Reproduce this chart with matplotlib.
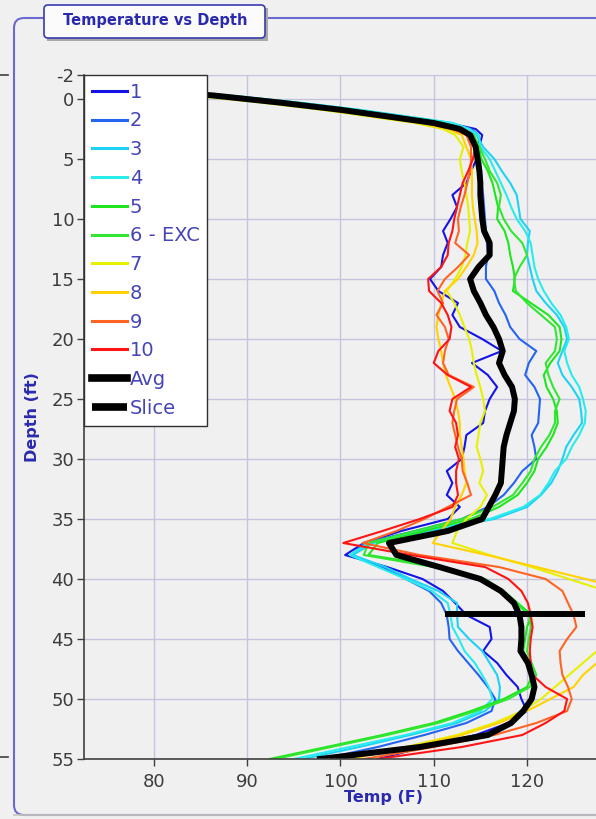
import matplotlib
matplotlib.use("Agg")
from matplotlib import pyplot as plt
from matplotlib.patches import FancyBboxPatch, Rectangle

plt.rcParams["axes.unicode_minus"] = False

# depth grid (ft), shared by every probe trace
depth = [-0.8, -0.3, 0.3, 0.9, 1.5, 2.0, 2.5, 3.0,
         4, 5, 6, 7, 8, 9, 10, 11, 12, 13, 14, 15, 16, 17, 18, 19, 20,
         21, 22, 23, 24, 25, 26, 27, 28, 29, 30, 31, 32, 33, 34, 35, 36,
         37, 38, 39, 40, 41, 42, 43, 44, 45, 46, 47, 48, 49, 50, 51, 52,
         53, 54, 55]

t1 = [79.0, 87.5, 95.0, 101.5, 107.0, 111.5, 114.5, 115.2,
      114.9, 114.6, 114.0, 113.5, 112.0, 112.5, 111.8, 111.0, 111.5, 111.0,
      110.8, 109.6, 110.5, 112.6, 112.0, 112.8, 115.2, 117.3, 114.1, 115.8,
      116.8, 116.0, 115.5, 115.3, 113.5, 113.3, 113.0, 111.4, 112.0, 111.4,
      112.8, 111.5, 106.5, 102.5, 100.5, 105.0, 108.8, 111.0, 112.3, 113.5,
      116.0, 116.2, 115.3, 116.8, 117.8, 119.0, 119.4, 120.0, 118.0, 114.5,
      109.0, 104.0]
t2 = [79.0, 87.5, 95.0, 101.5, 107.0, 111.5, 114.0, 114.8,
      114.9, 115.0, 115.0, 115.1, 115.3, 115.4, 115.5, 115.6, 115.7, 115.8,
      115.6, 115.6, 116.5, 117.0, 117.7, 118.2, 119.2, 121.0, 120.2, 119.8,
      120.8, 121.4, 121.3, 121.2, 120.5, 120.8, 121.0, 119.5, 118.6, 117.5,
      115.8, 113.0, 108.0, 102.5, 101.2, 104.5, 107.0, 109.5, 110.8, 111.4,
      111.6, 111.7, 112.6, 113.7, 114.8, 115.8, 116.6, 116.2, 113.5, 109.0,
      104.0, 98.0]
t3 = [79.5, 88.0, 95.5, 102.0, 107.5, 112.0, 113.8, 114.6,
      115.3, 116.5, 117.3, 118.2, 118.9, 119.1, 119.3, 120.3, 120.1, 120.0,
      120.3, 120.6, 121.0, 122.0, 123.2, 124.0, 124.3, 123.8, 123.3, 123.8,
      124.8, 125.6, 125.8, 125.9, 125.0, 124.2, 123.8, 123.3, 122.6, 121.5,
      120.0, 116.5, 109.5, 103.5, 101.3, 104.8, 107.5, 110.5, 112.5, 112.5,
      112.6, 113.8, 115.2, 116.0, 116.8, 117.1, 117.0, 115.5, 112.5, 107.5,
      102.0, 96.0]
t4 = [79.5, 88.0, 95.5, 102.0, 107.5, 112.0, 113.8, 114.8,
      115.0, 116.0, 116.6, 117.2, 117.8, 118.3, 118.9, 119.8, 120.4, 120.6,
      120.8, 121.2, 121.8, 122.6, 123.6, 124.2, 124.5, 124.0, 124.3, 124.8,
      125.6, 126.0, 126.3, 126.2, 125.6, 124.8, 124.2, 123.0, 122.3, 121.4,
      119.6, 116.0, 108.5, 103.0, 101.0, 104.0, 107.0, 109.8, 111.5, 111.8,
      112.0, 112.7, 113.3, 114.4, 115.2, 115.9, 116.3, 115.0, 112.0, 107.0,
      101.0, 95.0]
t5 = [78.5, 87.0, 94.5, 101.0, 106.5, 111.0, 113.0, 114.2,
      114.8, 115.1, 115.8, 116.3, 116.6, 116.9, 116.8, 117.6, 118.0, 118.2,
      118.5, 118.7, 118.5, 120.4, 122.3, 123.5, 123.7, 123.5, 122.5, 121.8,
      122.1, 122.8, 123.2, 123.3, 122.8, 122.1, 121.2, 120.8, 120.0, 119.0,
      117.0, 114.0, 109.0, 104.0, 103.0, 111.0, 115.5, 117.5, 119.0, 120.5,
      120.0, 119.8, 119.6, 120.2, 120.6, 120.0, 117.5, 114.0, 110.0, 104.5,
      98.5, 92.4]
t6 = [78.5, 87.0, 94.5, 101.0, 106.5, 111.0, 113.0, 114.3,
      114.9, 115.5, 116.0, 116.8, 117.2, 117.0, 117.5, 118.3, 119.5, 120.0,
      119.2, 118.6, 118.8, 120.0, 121.5, 123.0, 123.2, 123.0, 122.0, 122.3,
      122.8, 123.5, 123.0, 123.0, 122.4, 121.5, 120.8, 120.4, 119.5, 118.5,
      116.3, 113.0, 108.0, 103.0, 102.5, 110.0, 114.8, 117.0, 118.8, 120.2,
      120.4, 120.2, 120.0, 120.5, 121.0, 120.3, 118.0, 114.5, 110.5, 105.0,
      99.0, 93.0]
t7 = [76.0, 84.0, 91.5, 98.0, 103.5, 108.0, 111.0, 112.3,
      113.2, 112.8, 113.0, 113.3, 113.5, 113.7, 113.8, 113.9, 113.6, 113.4,
      113.0, 112.3, 111.4, 112.2, 112.8, 113.3, 113.8, 114.1, 114.3, 114.6,
      115.0, 115.3, 115.5, 115.0, 114.8, 114.6, 115.0, 115.3, 114.9, 115.7,
      115.0, 113.5, 112.5, 112.0, 116.0, 120.5, 124.5, 128.5, 131.5, 133.0,
      132.5, 130.5, 127.5, 126.0, 124.5, 123.0, 121.5, 119.5, 116.5, 112.5,
      107.0, 100.0]
t8 = [76.5, 84.5, 92.0, 98.5, 104.0, 108.5, 111.5, 113.0,
      113.5, 114.0, 114.1, 114.1, 114.1, 114.2, 114.4, 114.6, 114.7, 114.3,
      113.5, 112.6, 111.2, 110.8, 110.5, 110.3, 110.5, 110.8, 111.0, 111.3,
      111.8, 112.3, 112.6, 112.8, 112.8, 113.0, 113.2, 113.3, 113.5, 113.0,
      112.3, 111.8, 110.8, 109.9, 115.7, 121.0, 126.3, 131.0, 133.5, 134.5,
      134.0, 132.0, 129.0, 127.5, 126.0, 125.0, 122.5, 120.0, 117.0, 113.0,
      107.5, 101.0]
t9 = [77.0, 85.0, 92.5, 99.0, 104.5, 109.0, 112.0, 113.5,
      114.0, 114.0, 113.9, 113.6, 113.3, 112.9, 112.6, 112.7, 112.3, 113.8,
      112.6, 111.2, 110.4, 111.0, 110.3, 111.2, 111.6, 111.2, 111.0, 111.6,
      114.3, 112.5, 112.2, 112.0, 112.3, 112.6, 113.0, 113.1, 113.6, 114.0,
      111.5, 109.0, 106.0, 102.4, 108.5, 117.0, 122.0, 123.8, 124.4, 125.0,
      125.3, 124.3, 123.5, 123.6, 123.8, 124.4, 124.8, 124.3, 121.0, 116.5,
      110.0, 102.5]
t10 = [77.5, 85.5, 93.0, 99.5, 105.0, 109.5, 112.5, 114.0,
       114.5, 114.2, 113.7, 113.1, 112.8, 112.5, 112.2, 112.0, 111.6, 111.5,
       110.8, 109.4, 109.5, 110.8, 111.5, 111.9, 111.7, 110.5, 110.0, 111.5,
       114.0, 112.0, 111.7, 112.4, 112.6, 112.3, 112.7, 112.4, 112.4, 112.6,
       112.0, 108.5, 104.5, 100.3, 107.5, 115.5, 118.0, 119.4, 120.1, 120.4,
       120.6, 120.4, 120.3, 120.4, 120.6, 122.0, 124.3, 124.0, 122.0, 119.5,
       113.0, 104.0]
t_avg = [78.0, 86.3, 93.5, 100.0, 105.5, 110.0, 112.8, 113.9,
         114.5, 114.7, 114.9, 115.0, 115.0, 115.1, 115.2, 115.4, 116.0, 116.0,
         114.8, 113.9, 114.3, 115.0, 115.6, 116.4, 117.0, 117.4, 117.0, 117.6,
         118.4, 118.7, 118.6, 118.2, 117.8, 117.5, 117.4, 117.3, 117.2, 116.6,
         115.9, 115.2, 111.5, 105.2, 106.0, 110.6, 115.0, 117.2, 118.6, 119.2,
         119.4, 119.4, 119.3, 120.1, 120.5, 120.8, 120.5, 119.6, 118.3, 115.8,
         108.5, 97.8]

slice_temp = [111.2, 126.2]
slice_depth = [42.9, 42.9]

labels = ["1", "2", "3", "4", "5", "6 - EXC", "7", "8", "9", "10"]
traces = [t1, t2, t3, t4, t5, t6, t7, t8, t9, t10]
colors = ["#1414e6", "#2464f0", "#1ed2f5", "#28ecec", "#1ee61e", "#32e632",
          "#e6f000", "#ffd200", "#ff6424", "#ff1414"]

BG = "#f0f0f0"
TXT = "#3c3c3c"
BLUE = "#2a2ab0"

fig = plt.figure(figsize=(5.96, 8.19), dpi=100, facecolor=BG)

# background decoration: group box around the chart
bg = fig.add_axes([0, 0, 1, 1], zorder=-1)
bg.set_xlim(0, 596)
bg.set_ylim(819, 0)
bg.axis("off")
bg.add_patch(FancyBboxPatch((14, 18), 640, 797,
                            boxstyle="round,pad=0,rounding_size=10",
                            fc="none", ec="#6a6ad0", lw=1.5))
bg.add_patch(Rectangle((47, 8), 221, 33, fc="#a8a8a8", ec="none"))
bg.add_patch(FancyBboxPatch((44, 5), 221, 33,
                            boxstyle="round,pad=0,rounding_size=4",
                            fc="#fbfbfb", ec="#3a3ab0", lw=1.2))
bg.text(155, 21, "Temperature vs Depth", ha="center", va="center",
        fontsize=10.5, fontweight="bold", color=BLUE)
bg.plot([0, 8], [75, 75], color="#404040", lw=1.2)
bg.plot([0, 8], [757, 757], color="#404040", lw=1.2)
bg.plot([14, 596], [815, 815], color="#c8c8b8", lw=1.2)

ax = fig.add_axes([84 / 596, 60 / 819, 512 / 596, 684 / 819])
ax.set_facecolor(BG)
ax.set_xlim(72.5, 127.4)
ax.set_ylim(55, -2)
ax.set_xticks([80, 90, 100, 110, 120])
ax.set_yticks([-2, 0, 5, 10, 15, 20, 25, 30, 35, 40, 45, 50, 55])
ax.grid(True, color="#c4c4de", lw=1.0)
ax.set_axisbelow(True)
for s in ["top", "right"]:
    ax.spines[s].set_visible(False)
for s in ["left", "bottom"]:
    ax.spines[s].set_color("#404040")
    ax.spines[s].set_linewidth(1.2)
ax.tick_params(colors="#404040", labelcolor=TXT, labelsize=13,
               length=5, width=1.0)
ax.tick_params(axis="y", pad=2)
ax.tick_params(axis="x", pad=5)

for t, c, lab in zip(traces, colors, labels):
    ax.plot(t, depth, color=c, lw=1.5, label=lab)
ax.plot(t_avg, depth, color="black", lw=4.3, label="Avg")
ax.plot(slice_temp, slice_depth, color="black", lw=4.3, label="Slice",
        solid_capstyle="butt")

leg = ax.legend(loc="upper left", bbox_to_anchor=(0, 1), borderaxespad=0,
                fontsize=14, handlelength=1.8, handletextpad=0.15,
                labelspacing=0.5, borderpad=0.4, fancybox=False,
                framealpha=1, facecolor="white", edgecolor="#303030")
leg.get_frame().set_linewidth(1.0)
for txt in leg.get_texts():
    txt.set_color("#4545b5")
for h in leg.get_lines()[:10]:
    h.set_linewidth(2.2)
for h in leg.get_lines()[10:]:
    h.set_linewidth(5.5)

ax.text(-0.1, 0.5, "Depth (ft)", transform=ax.transAxes, rotation=90,
        ha="center", va="center", fontsize=11.5, fontweight="bold",
        color=BLUE)
ax.text(0.584, -0.0556, "Temp (F)", transform=ax.transAxes,
        ha="center", va="center", fontsize=11.5, fontweight="bold",
        color=BLUE)

fig.savefig("out.png", dpi=100, facecolor=BG)
